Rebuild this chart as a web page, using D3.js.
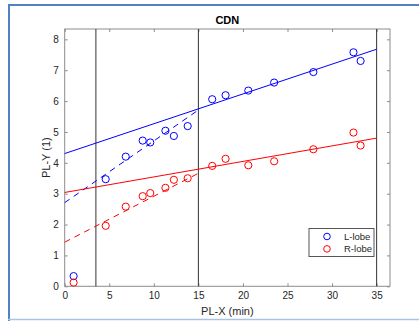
<!DOCTYPE html>
<html>
<head>
<meta charset="utf-8">
<script src="https://cdn.jsdelivr.net/npm/d3@7"></script>
<style>
  body { margin: 0; background: #fff; }
  svg { display: block; font-family: Arial, "Liberation Sans", sans-serif; }
</style>
</head>
<body>
<svg id="chart" width="419" height="321"></svg>
<script>
// data
const timeX = [1.0, 4.6, 6.85, 8.75, 9.6, 11.3, 12.25, 13.8, 16.55, 18.05, 20.6, 23.5, 27.9, 32.4, 33.2];
const leftY = [0.33, 3.47, 4.2, 4.72, 4.66, 5.04, 4.87, 5.19, 6.06, 6.19, 6.34, 6.6, 6.94, 7.58, 7.3];
const rightY = [0.12, 1.96, 2.58, 2.92, 3.02, 3.19, 3.45, 3.5, 3.9, 4.13, 3.92, 4.05, 4.44, 4.98, 4.56];

// fit lines as [x0, y0, x1, y1]
const leftSolid = [0, 4.30, 35, 7.68];
const leftDashed = [0, 2.71, 15, 5.71];
const rightSolid = [0, 3.04, 35, 4.80];
const rightDashed = [0, 1.43, 15, 3.66];

const vLines = [3.5, 15, 35];
const xTicks = [0, 5, 10, 15, 20, 25, 30, 35];
const yTicks = [0, 1, 2, 3, 4, 5, 6, 7, 8];
const seriesNames = ["L-lobe", "R-lobe"];
const seriesColors = ["#0000ff", "#ff0000"];

const svg = d3.select("#chart");

// outer frame
svg.append("line").attr("x1", 8).attr("x2", 419).attr("y1", 5).attr("y2", 5)
  .attr("stroke", "#4f81c7").attr("stroke-width", 2);
svg.append("line").attr("x1", 9).attr("x2", 9).attr("y1", 4).attr("y2", 321)
  .attr("stroke", "#4f81c7").attr("stroke-width", 2);
svg.append("line").attr("x1", 8).attr("x2", 419).attr("y1", 319.5).attr("y2", 319.5)
  .attr("stroke", "#a9c3e6").attr("stroke-width", 1.5);

const mLeft = 64.7, mRight = 390, mTop = 29, mBottom = 286.3;
const x = d3.scaleLinear().domain([0, 36.5]).range([mLeft, mRight]);
const y = d3.scaleLinear().domain([0, 8.335]).range([mBottom, mTop]);

const axisCol = "#8c8c8c";
const textCol = "#262626";

// axes with inward ticks
const gx = svg.append("g").attr("transform", `translate(0,${mBottom})`)
  .call(d3.axisBottom(x).tickValues(xTicks).tickSizeInner(-3).tickSizeOuter(0).tickPadding(6));
const gxt = svg.append("g").attr("transform", `translate(0,${mTop})`)
  .call(d3.axisTop(x).tickValues(xTicks).tickSizeInner(-3).tickSizeOuter(0).tickFormat(""));
const gy = svg.append("g").attr("transform", `translate(${mLeft},0)`)
  .call(d3.axisLeft(y).tickValues(yTicks).tickSizeInner(-3).tickSizeOuter(0).tickPadding(6));
const gyr = svg.append("g").attr("transform", `translate(${mRight},0)`)
  .call(d3.axisRight(y).tickValues(yTicks).tickSizeInner(-3).tickSizeOuter(0).tickFormat(""));

[gx, gxt, gy, gyr].forEach(g => {
  g.select(".domain").remove();
  g.selectAll(".tick line").attr("stroke", axisCol);
  g.selectAll("text").attr("fill", textCol).attr("font-size", 10)
    .attr("font-family", "Arial, 'Liberation Sans', sans-serif");
});

svg.append("rect").attr("x", mLeft).attr("y", mTop)
  .attr("width", mRight - mLeft).attr("height", mBottom - mTop)
  .attr("fill", "none").attr("stroke", axisCol).attr("stroke-width", 1);

// vertical markers
svg.append("g").selectAll("line").data(vLines).join("line")
  .attr("x1", d => x(d)).attr("x2", d => x(d))
  .attr("y1", mTop).attr("y2", mBottom)
  .attr("stroke", "#333").attr("stroke-width", 1);

// fit lines
const fits = [
  { l: leftSolid, c: seriesColors[0], dash: null },
  { l: leftDashed, c: seriesColors[0], dash: "6,5" },
  { l: rightSolid, c: seriesColors[1], dash: null },
  { l: rightDashed, c: seriesColors[1], dash: "6,5" }
];
svg.append("g").selectAll("line").data(fits).join("line")
  .attr("x1", d => x(d.l[0])).attr("y1", d => y(d.l[1]))
  .attr("x2", d => x(d.l[2])).attr("y2", d => y(d.l[3]))
  .attr("stroke", d => d.c).attr("stroke-width", 1)
  .attr("stroke-dasharray", d => d.dash);

// points
[leftY, rightY].forEach((vals, i) => {
  svg.append("g").selectAll("circle").data(vals).join("circle")
    .attr("cx", (d, j) => x(timeX[j])).attr("cy", d => y(d))
    .attr("r", 3.6).attr("fill", "none")
    .attr("stroke", seriesColors[i]).attr("stroke-width", 1);
});

// title and labels
svg.append("text").attr("x", (mLeft + mRight) / 2).attr("y", 24)
  .attr("text-anchor", "middle").attr("font-size", 11).attr("font-weight", "bold")
  .attr("fill", "#000").text("CDN");
svg.append("text").attr("x", (mLeft + mRight) / 2).attr("y", 315)
  .attr("text-anchor", "middle").attr("font-size", 11).attr("fill", textCol)
  .text("PL-X (min)");
svg.append("text").attr("transform", `translate(50,${(mTop + mBottom) / 2}) rotate(-90)`)
  .attr("text-anchor", "middle").attr("font-size", 11).attr("fill", textCol)
  .text("PL-Y (1)");

// legend
const lg = svg.append("g").attr("transform", "translate(309,228.5)");
lg.append("rect").attr("width", 65).attr("height", 28)
  .attr("fill", "#fff").attr("stroke", "#555").attr("stroke-width", 1);
seriesNames.forEach((n, i) => {
  lg.append("circle").attr("cx", 18).attr("cy", 8 + i * 12.4).attr("r", 3.3)
    .attr("fill", "none").attr("stroke", seriesColors[i]);
  lg.append("text").attr("x", 35).attr("y", 11.5 + i * 12.4)
    .attr("font-size", 9.5).attr("fill", textCol).text(n);
});
</script>
</body>
</html>
